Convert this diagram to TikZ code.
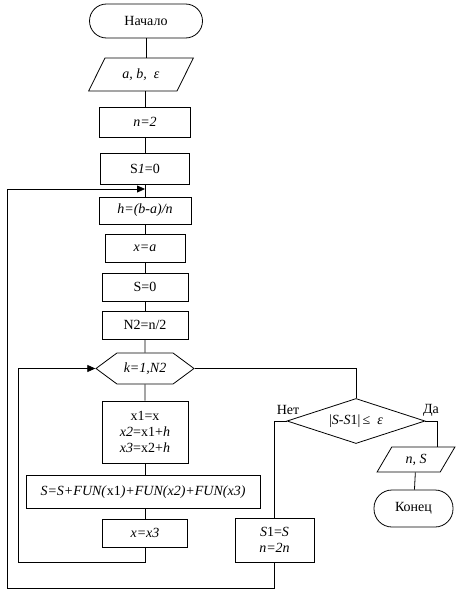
\documentclass[tikz,border=0pt]{standalone}
\usepackage{fontspec}
\setmainfont{Liberation Serif}
\usetikzlibrary{arrows.meta,shapes.geometric,shapes.symbols}
\tikzset{%
   block/.style={rectangle, draw=black, inner sep=1pt},
   term/.style={rectangle, rounded corners=17pt, draw=black, inner sep=1pt},
   io/.style={trapezium, trapezium stretches=true, draw=black, inner sep=1pt},
   cond/.style={diamond, aspect=3, draw=black, inner sep=0pt},
   cycle/.style={signal, signal to=west and east, signal pointer angle=73, draw=black, inner sep=1pt},
   fb/.style={-{Triangle[length=8pt, width=7pt]}},
}

\begin{document}
\begin{tikzpicture}[x=1pt, y=-1pt, line width=0.8pt, font=\fontsize{14}{16}\selectfont]
   \useasboundingbox (0,0) rectangle (458,594);
   % main column
   \node[term, minimum width=113pt, minimum height=34pt] (start) at (146,21) {Начало};
   \node[io, trapezium left angle=57.5, trapezium right angle=122.5,
         minimum width=105pt, minimum height=33pt] (input) at (141,74.5) {\textit{a, b,\ \ ε}};
   \node[block, minimum width=91pt, minimum height=30pt] (n2) at (145,122) {\textit{n=2}};
   \node[block, minimum width=89pt, minimum height=31pt] (s1) at (145,168.5) {S\textit{1}=0};
   \node[block, minimum width=92pt, minimum height=27pt] (h) at (145,210.5) {\textit{h=(b-a)/n}};
   \node[block, minimum width=80pt, minimum height=28pt] (xa) at (145,248) {\textit{x=a}};
   \node[block, minimum width=86pt, minimum height=28pt] (s0) at (145,287) {S=0};
   \node[block, minimum width=86pt, minimum height=28pt] (half) at (145,325) {N2=n/2};
   \node[cycle, minimum width=98pt, minimum height=31pt] (loop) at (145,368.5) {\textit{k=1,N2}};
   \node[block, minimum width=86pt, minimum height=62pt, align=center] (body) at (145,432)
        {x1=x\\\textit{x2}=x1+\textit{h}\\\textit{x3}=x2+\textit{h}};
   \node[block, minimum width=234pt, minimum height=33pt] (sum) at (143,492)
        {\textit{S=S+FUN(}x1\textit{)+FUN(x2)+FUN(x3)}};
   \node[block, minimum width=85pt, minimum height=28pt] (shift) at (145,533) {\textit{x=x3}};
   % right part
   \node[cond, minimum width=138pt, minimum height=45pt] (check) at (356,421) {|\textit{S}-\textit{S}1|\,≤\ \ \textit{ε}};
   \node[block, minimum width=79pt, minimum height=44pt, align=center] (reset) at (274.5,540)
        {\textit{S}1=\textit{S}\\\textit{n=2n}};
   \node[io, trapezium left angle=62.5, trapezium right angle=117.5,
         minimum width=78pt, minimum height=25pt] (output) at (416,459.5) {\textit{n, S}};
   \node[term, minimum width=79pt, minimum height=37pt, rounded corners=18pt] (stop) at (413.5,508.5) {Конец};
   \node (no) at (288,410) {Нет};
   \node (yes) at (431,410) {Да};
   \coordinate (join1) at (145,189);
   \coordinate (outerL) at (7,588);
   \coordinate (innerL) at (18,562);
   \coordinate (yesL) at (437,0);
   % connectors
   \draw (start) -- (start |- input.north);
   \draw (input.south -| n2) -- (n2);
   \draw (n2) -- (s1);
   \draw (s1) -- (h);
   \draw (h) -- (xa);
   \draw (xa) -- (s0);
   \draw (s0) -- (half);
   \draw (half) -- (loop);
   \draw (loop) -- (body);
   \draw (body) -- (body |- sum.north);
   \draw (shift |- sum.south) -- (shift);
   \draw[fb] (shift.south) |- (innerL) |- (loop.west);
   \draw (loop.east) -| (check.north);
   \draw (check.west) -| (reset.north);
   \draw[fb] (reset.south) |- (outerL) |- (join1);
   \draw (check.east) -| (yesL |- output.north);
   \draw (output) -- (stop);
\end{tikzpicture}
\end{document}
